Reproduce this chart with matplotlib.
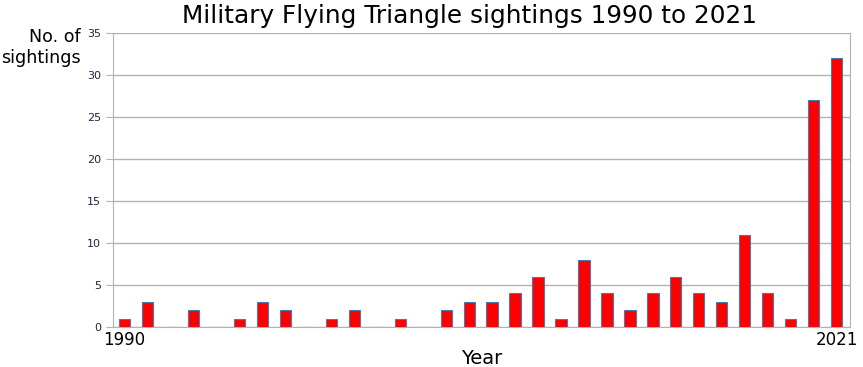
import numpy as np
import matplotlib
matplotlib.use('Agg')
import matplotlib.pyplot as plt

years = np.arange(1990, 2022)
sightings = [1, 3, 0, 2, 0, 1, 3, 2, 0, 1, 2, 0, 1, 0, 2, 3,
             3, 4, 6, 1, 8, 4, 2, 4, 6, 4, 3, 11, 4, 1, 27, 32]

fig = plt.figure(figsize=(8.63, 3.67), dpi=100)
ax = fig.add_axes([0.131, 0.109, 0.854, 0.801])

ax.bar(years, sightings, width=0.48, color='#ff0000', edgecolor='#4a7ab0', linewidth=0.8, zorder=3)

ax.set_xlim(1989.52, 2021.57)
ax.set_ylim(0, 35)
ax.set_yticks(range(0, 36, 5))
ax.set_xticks([1990, 2021])
ax.tick_params(axis='x', length=0, labelsize=12, pad=3)
ax.tick_params(axis='y', labelsize=8, length=5, color='#b3b3b3', labelcolor='#222244')
ax.grid(axis='y', color='#b3b3b3', linewidth=1, zorder=0)
for s in ax.spines.values():
    s.set_color('#b3b3b3')
ax.spines['top'].set_visible(False)

ax.set_title('Military Flying Triangle sightings 1990 to 2021', fontsize=17.8, pad=7, x=0.484)
ax.set_xlabel('Year', fontsize=14, labelpad=0)
fig.text(0.093, 0.925, 'No. of\nsightings', ha='right', va='top', fontsize=12.6, linespacing=1.25)

fig.savefig('out.png', dpi=100)
